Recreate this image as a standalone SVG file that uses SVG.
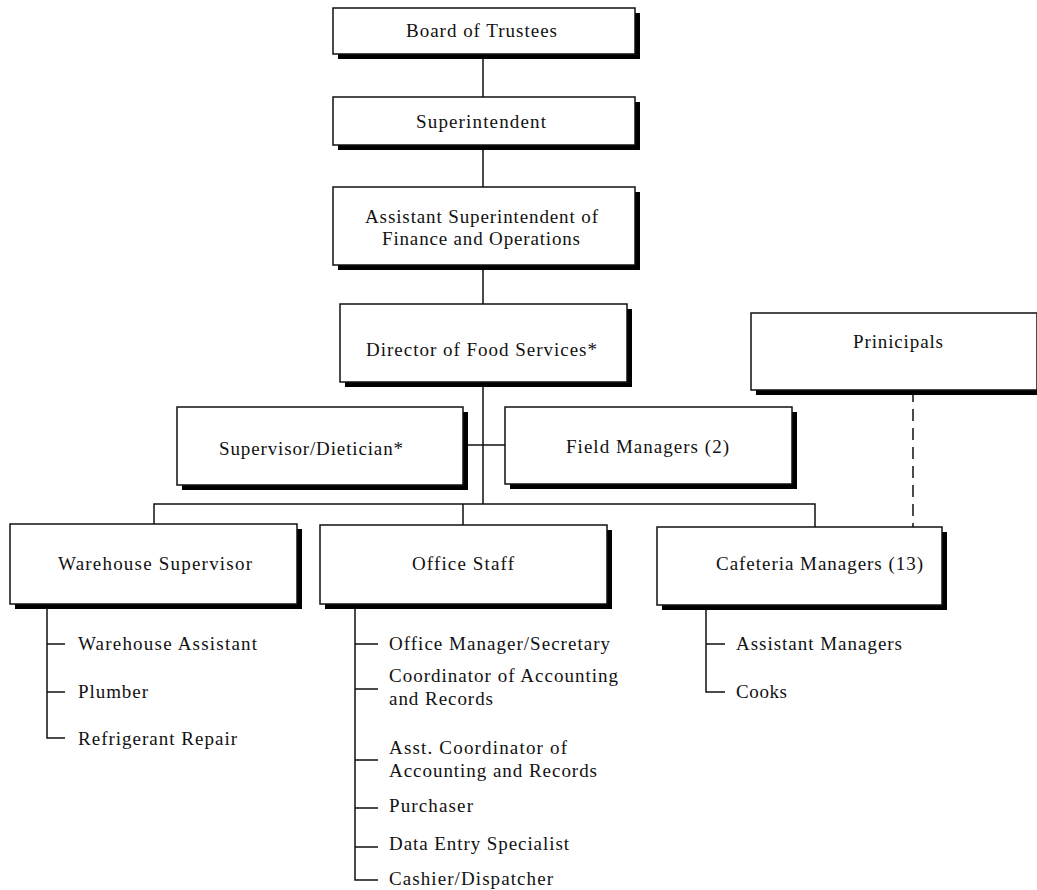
<svg xmlns="http://www.w3.org/2000/svg" width="1037" height="890" viewBox="0 0 1037 890">
  <style>
    .shadow { fill: #000; }
    .box { fill: #fff; stroke: #111; stroke-width: 1.5; }
    .lbl { font-family: "Liberation Serif", "Times New Roman", serif; font-size: 19px; fill: #111; }
    .wire { fill: none; stroke: #111; stroke-width: 1.5; }
    .dash { stroke-dasharray: 12 7; }
  </style>
  <rect width="1037" height="890" fill="#fff"/>

  <!-- connectors -->
  <g id="connectors">
    <path class="wire" d="M483 54 V97 M483 145 V187 M483 265 V304 M483 382 V504"/>
    <path class="wire" d="M463 445 H505"/>
    <path class="wire" d="M154 524 V504 H815 V527 M463 504 V525"/>
    <path class="wire dash" d="M913 390 V527"/>
    <!-- warehouse staff list -->
    <path class="wire" d="M47 604 V738 H65 M47 644 H65 M47 692 H65"/>
    <!-- office staff list -->
    <path class="wire" d="M355 604 V880 H378 M355 644 H378 M355 689 H378 M355 760 H378 M355 808 H378 M355 847 H378"/>
    <!-- cafeteria staff list -->
    <path class="wire" d="M706 605 V692 H725 M706 644 H725"/>
  </g>

  <g id="board">
    <rect class="shadow" x="338" y="13" width="302" height="46"/>
    <rect class="box" x="333" y="8" width="302" height="46"/>
    <text class="lbl" x="406" y="37" textLength="151" lengthAdjust="spacing">Board of Trustees</text>
  </g>

  <g id="superintendent">
    <rect class="shadow" x="338" y="102" width="302" height="48"/>
    <rect class="box" x="333" y="97" width="302" height="48"/>
    <text class="lbl" x="416" y="128" textLength="130" lengthAdjust="spacing">Superintendent</text>
  </g>

  <g id="asst-superintendent">
    <rect class="shadow" x="338" y="192" width="302" height="78"/>
    <rect class="box" x="333" y="187" width="302" height="78"/>
    <text class="lbl" x="365" y="223" textLength="233" lengthAdjust="spacing">Assistant Superintendent of</text>
    <text class="lbl" x="382" y="245" textLength="198" lengthAdjust="spacing">Finance and Operations</text>
  </g>

  <g id="director">
    <rect class="shadow" x="345" y="309" width="287" height="78"/>
    <rect class="box" x="340" y="304" width="287" height="78"/>
    <text class="lbl" x="366" y="356" textLength="231" lengthAdjust="spacing">Director of Food Services*</text>
  </g>

  <g id="principals">
    <rect class="shadow" x="756" y="318" width="286" height="77"/>
    <rect class="box" x="751" y="313" width="286" height="77"/>
    <text class="lbl" x="853" y="348" textLength="90" lengthAdjust="spacing">Prinicipals</text>
  </g>

  <g id="supervisor-dietician">
    <rect class="shadow" x="182" y="412" width="286" height="78"/>
    <rect class="box" x="177" y="407" width="286" height="78"/>
    <text class="lbl" x="219" y="455" textLength="184" lengthAdjust="spacing">Supervisor/Dietician*</text>
  </g>

  <g id="field-managers">
    <rect class="shadow" x="510" y="412" width="287" height="77"/>
    <rect class="box" x="505" y="407" width="287" height="77"/>
    <text class="lbl" x="566" y="453" textLength="163" lengthAdjust="spacing">Field Managers (2)</text>
  </g>

  <g id="warehouse-supervisor">
    <rect class="shadow" x="15" y="529" width="287" height="80"/>
    <rect class="box" x="10" y="524" width="287" height="80"/>
    <text class="lbl" x="58" y="570" textLength="194" lengthAdjust="spacing">Warehouse Supervisor</text>
  </g>

  <g id="office-staff">
    <rect class="shadow" x="325" y="530" width="287" height="79"/>
    <rect class="box" x="320" y="525" width="287" height="79"/>
    <text class="lbl" x="412" y="570" textLength="102" lengthAdjust="spacing">Office Staff</text>
  </g>

  <g id="cafeteria-managers">
    <rect class="shadow" x="662" y="532" width="285" height="78"/>
    <rect class="box" x="657" y="527" width="285" height="78"/>
    <text class="lbl" x="716" y="570" textLength="207" lengthAdjust="spacing">Cafeteria Managers (13)</text>
  </g>

  <g id="warehouse-staff">
    <text class="lbl" x="78" y="650" textLength="179" lengthAdjust="spacing">Warehouse Assistant</text>
    <text class="lbl" x="78" y="698" textLength="70" lengthAdjust="spacing">Plumber</text>
    <text class="lbl" x="78" y="745" textLength="159" lengthAdjust="spacing">Refrigerant Repair</text>
  </g>

  <g id="office-staff-list">
    <text class="lbl" x="389" y="650" textLength="221" lengthAdjust="spacing">Office Manager/Secretary</text>
    <text class="lbl" x="389" y="682" textLength="229" lengthAdjust="spacing">Coordinator of Accounting</text>
    <text class="lbl" x="389" y="705" textLength="104" lengthAdjust="spacing">and Records</text>
    <text class="lbl" x="389" y="754" textLength="178" lengthAdjust="spacing">Asst. Coordinator of</text>
    <text class="lbl" x="389" y="777" textLength="208" lengthAdjust="spacing">Accounting and Records</text>
    <text class="lbl" x="389" y="812" textLength="84" lengthAdjust="spacing">Purchaser</text>
    <text class="lbl" x="389" y="850" textLength="180" lengthAdjust="spacing">Data Entry Specialist</text>
    <text class="lbl" x="389" y="885" textLength="164" lengthAdjust="spacing">Cashier/Dispatcher</text>
  </g>

  <g id="cafeteria-staff">
    <text class="lbl" x="736" y="650" textLength="166" lengthAdjust="spacing">Assistant Managers</text>
    <text class="lbl" x="736" y="698" textLength="51" lengthAdjust="spacing">Cooks</text>
  </g>
</svg>
